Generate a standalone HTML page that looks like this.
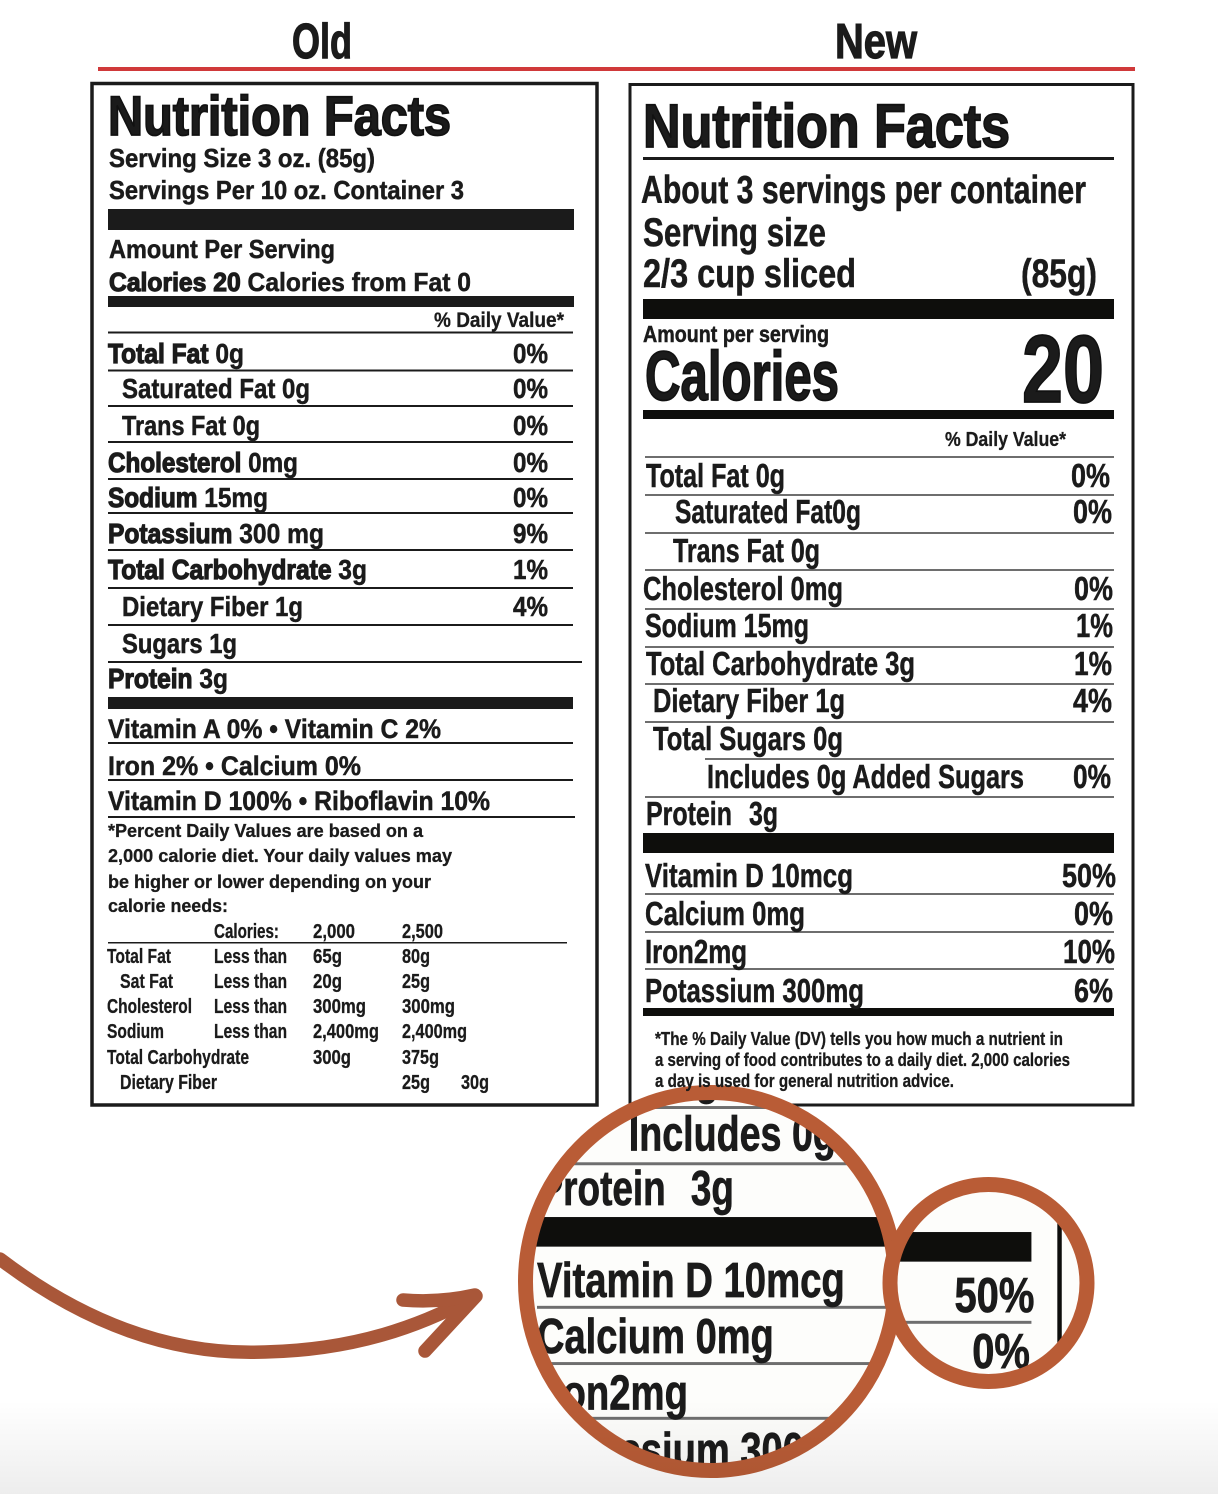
<!DOCTYPE html>
<html><head><meta charset="utf-8"><style>
html,body{margin:0;padding:0;background:#fff;width:1218px;height:1494px;overflow:hidden;}
svg{display:block}
text{font-family:"Liberation Sans",Arial,sans-serif;font-weight:bold;fill:#1b1b1b;stroke:#1b1b1b;stroke-width:0.5;}
.s{stroke-width:0.3;}
.k{stroke:#1b1b1b;stroke-width:1.2;}
.kk{stroke:#111;stroke-width:1.8;}
</style></head><body>
<svg width="1218" height="1494" viewBox="0 0 1218 1494" xmlns="http://www.w3.org/2000/svg">
<defs>
  <clipPath id="cb"><ellipse cx="710.5" cy="1281.5" rx="185" ry="189"/></clipPath>
  <clipPath id="cs"><circle cx="988.5" cy="1283" r="98"/></clipPath>
  <clipPath id="page"><rect x="0" y="0" width="1218" height="1494"/></clipPath>
  <linearGradient id="fade" x1="0" y1="0" x2="0" y2="1">
    <stop offset="0" stop-color="#000" stop-opacity="0"/>
    <stop offset="1" stop-color="#000" stop-opacity="0.07"/>
  </linearGradient>
</defs>
<g clip-path="url(#page)">
<rect x="0" y="0" width="1218" height="1494" fill="#fff"/>

<!-- headings -->
<text x="292" y="58" font-size="49" textLength="60" lengthAdjust="spacingAndGlyphs" class="k">Old</text>
<text x="835" y="58" font-size="49" textLength="82" lengthAdjust="spacingAndGlyphs" class="k">New</text>
<rect x="98" y="67" width="1037" height="4" fill="#d0393a"/>

<!-- OLD LABEL -->
<rect x="92" y="83.5" width="505" height="1021.5" fill="none" stroke="#1b1b1b" stroke-width="3.5"/>
<text x="108" y="135" font-size="56" textLength="343" lengthAdjust="spacingAndGlyphs" class="kk">Nutrition Facts</text>
<text x="109" y="167" font-size="26" textLength="266" lengthAdjust="spacingAndGlyphs">Serving Size 3 oz. (85g)</text>
<text x="109" y="199" font-size="26" textLength="355" lengthAdjust="spacingAndGlyphs">Servings Per 10 oz. Container 3</text>
<rect x="108" y="209" width="466" height="21" fill="#1b1b1b"/>
<text x="109" y="258" font-size="26" textLength="226" lengthAdjust="spacingAndGlyphs">Amount Per Serving</text>
<text x="109" y="291" font-size="26" textLength="362" lengthAdjust="spacingAndGlyphs"><tspan class="k">Calories 20</tspan>  Calories from Fat 0</text>
<rect x="108" y="296" width="466" height="11" fill="#1b1b1b"/>
<text x="434" y="327" font-size="21" textLength="130" lengthAdjust="spacingAndGlyphs" class="s">% Daily Value*</text>
<g fill="#1b1b1b">
<rect x="108" y="331.5" width="465" height="2"/>
<rect x="108" y="369.5" width="465" height="2"/>
<rect x="108" y="405" width="465" height="2"/>
<rect x="108" y="441" width="465" height="2"/>
<rect x="108" y="478" width="465" height="2"/>
<rect x="108" y="512" width="465" height="2"/>
<rect x="108" y="549" width="465" height="2"/>
<rect x="108" y="587" width="465" height="2"/>
<rect x="108" y="624" width="465" height="2"/>
<rect x="108" y="661" width="474" height="2"/>
<rect x="108" y="697" width="465" height="12"/>
</g>
<text x="108" y="363" font-size="28" textLength="136" lengthAdjust="spacingAndGlyphs"><tspan class="k">Total Fat</tspan> 0g</text>
<text x="122" y="398" font-size="28" textLength="188" lengthAdjust="spacingAndGlyphs">Saturated Fat 0g</text>
<text x="122" y="435" font-size="28" textLength="138" lengthAdjust="spacingAndGlyphs">Trans Fat 0g</text>
<text x="108" y="472" font-size="28" textLength="190" lengthAdjust="spacingAndGlyphs"><tspan class="k">Cholesterol</tspan> 0mg</text>
<text x="108" y="507" font-size="28" textLength="160" lengthAdjust="spacingAndGlyphs"><tspan class="k">Sodium</tspan> 15mg</text>
<text x="108" y="543" font-size="28" textLength="216" lengthAdjust="spacingAndGlyphs"><tspan class="k">Potassium</tspan> 300 mg</text>
<text x="108" y="579" font-size="28" textLength="259" lengthAdjust="spacingAndGlyphs"><tspan class="k">Total Carbohydrate</tspan> 3g</text>
<text x="122" y="616" font-size="28" textLength="181" lengthAdjust="spacingAndGlyphs">Dietary Fiber 1g</text>
<text x="122" y="653" font-size="28" textLength="115" lengthAdjust="spacingAndGlyphs">Sugars 1g</text>
<text x="108" y="688" font-size="28" textLength="120" lengthAdjust="spacingAndGlyphs"><tspan class="k">Protein</tspan> 3g</text>
<text x="513" y="363" font-size="28" textLength="35" lengthAdjust="spacingAndGlyphs">0%</text>
<text x="513" y="398" font-size="28" textLength="35" lengthAdjust="spacingAndGlyphs">0%</text>
<text x="513" y="435" font-size="28" textLength="35" lengthAdjust="spacingAndGlyphs">0%</text>
<text x="513" y="472" font-size="28" textLength="35" lengthAdjust="spacingAndGlyphs">0%</text>
<text x="513" y="507" font-size="28" textLength="35" lengthAdjust="spacingAndGlyphs">0%</text>
<text x="513" y="543" font-size="28" textLength="35" lengthAdjust="spacingAndGlyphs">9%</text>
<text x="513" y="579" font-size="28" textLength="35" lengthAdjust="spacingAndGlyphs">1%</text>
<text x="513" y="616" font-size="28" textLength="35" lengthAdjust="spacingAndGlyphs">4%</text>
<text x="108" y="738" font-size="27" textLength="333" lengthAdjust="spacingAndGlyphs">Vitamin A 0% • Vitamin C 2%</text>
<rect x="108" y="742" width="465" height="2" fill="#1b1b1b"/>
<text x="108" y="775" font-size="27" textLength="253" lengthAdjust="spacingAndGlyphs">Iron 2% • Calcium 0%</text>
<rect x="108" y="779" width="465" height="2" fill="#1b1b1b"/>
<text x="108" y="810" font-size="27" textLength="382" lengthAdjust="spacingAndGlyphs">Vitamin D 100% • Riboflavin 10%</text>
<rect x="108" y="816" width="467" height="2" fill="#1b1b1b"/>
<text class="s" x="108" y="837" font-size="18" textLength="315" lengthAdjust="spacingAndGlyphs">*Percent Daily Values are based on a</text>
<text class="s" x="108" y="862" font-size="18" textLength="344" lengthAdjust="spacingAndGlyphs">2,000 calorie diet. Your daily values may</text>
<text class="s" x="108" y="888" font-size="18" textLength="323" lengthAdjust="spacingAndGlyphs">be higher or lower depending on your</text>
<text class="s" x="108" y="912" font-size="18" textLength="120" lengthAdjust="spacingAndGlyphs">calorie needs:</text>
<g font-size="20">
<text class="s" x="214" y="938" textLength="65" lengthAdjust="spacingAndGlyphs">Calories:</text>
<text class="s" x="313" y="938" textLength="42" lengthAdjust="spacingAndGlyphs">2,000</text>
<text class="s" x="402" y="938" textLength="41" lengthAdjust="spacingAndGlyphs">2,500</text>
<text class="s" x="107" y="963" textLength="64" lengthAdjust="spacingAndGlyphs">Total Fat</text>
<text class="s" x="214" y="963" textLength="73" lengthAdjust="spacingAndGlyphs">Less than</text>
<text class="s" x="313" y="963" textLength="29" lengthAdjust="spacingAndGlyphs">65g</text>
<text class="s" x="402" y="963" textLength="28" lengthAdjust="spacingAndGlyphs">80g</text>
<text class="s" x="120" y="988" textLength="53" lengthAdjust="spacingAndGlyphs">Sat Fat</text>
<text class="s" x="214" y="988" textLength="73" lengthAdjust="spacingAndGlyphs">Less than</text>
<text class="s" x="313" y="988" textLength="29" lengthAdjust="spacingAndGlyphs">20g</text>
<text class="s" x="402" y="988" textLength="28" lengthAdjust="spacingAndGlyphs">25g</text>
<text class="s" x="107" y="1013" textLength="85" lengthAdjust="spacingAndGlyphs">Cholesterol</text>
<text class="s" x="214" y="1013" textLength="73" lengthAdjust="spacingAndGlyphs">Less than</text>
<text class="s" x="313" y="1013" textLength="53" lengthAdjust="spacingAndGlyphs">300mg</text>
<text class="s" x="402" y="1013" textLength="53" lengthAdjust="spacingAndGlyphs">300mg</text>
<text class="s" x="107" y="1038" textLength="57" lengthAdjust="spacingAndGlyphs">Sodium</text>
<text class="s" x="214" y="1038" textLength="73" lengthAdjust="spacingAndGlyphs">Less than</text>
<text class="s" x="313" y="1038" textLength="66" lengthAdjust="spacingAndGlyphs">2,400mg</text>
<text class="s" x="402" y="1038" textLength="65" lengthAdjust="spacingAndGlyphs">2,400mg</text>
<text class="s" x="107" y="1064" textLength="142" lengthAdjust="spacingAndGlyphs">Total Carbohydrate</text>
<text class="s" x="313" y="1064" textLength="38" lengthAdjust="spacingAndGlyphs">300g</text>
<text class="s" x="402" y="1064" textLength="37" lengthAdjust="spacingAndGlyphs">375g</text>
<text class="s" x="120" y="1089" textLength="97" lengthAdjust="spacingAndGlyphs">Dietary Fiber</text>
<text class="s" x="402" y="1089" textLength="28" lengthAdjust="spacingAndGlyphs">25g</text>
<text class="s" x="461" y="1089" textLength="28" lengthAdjust="spacingAndGlyphs">30g</text>
</g>
<rect x="108" y="942" width="459" height="1.5" fill="#1b1b1b"/>

<!-- NEW LABEL -->
<rect x="630" y="84.5" width="503" height="1020.5" fill="none" stroke="#1b1b1b" stroke-width="3"/>
<text x="643" y="147" font-size="61" textLength="367" lengthAdjust="spacingAndGlyphs" class="kk">Nutrition Facts</text>
<rect x="643" y="157" width="471" height="3" fill="#1b1b1b"/>
<text x="641" y="203" font-size="39" textLength="445" lengthAdjust="spacingAndGlyphs">About 3 servings per container</text>
<text x="643" y="246" font-size="40" textLength="183" lengthAdjust="spacingAndGlyphs">Serving size</text>
<text x="643" y="287" font-size="40" textLength="213" lengthAdjust="spacingAndGlyphs">2/3 cup sliced</text>
<text x="1021" y="287" font-size="40" textLength="76" lengthAdjust="spacingAndGlyphs">(85g)</text>
<rect x="643" y="299" width="471" height="20" fill="#0e0e0c"/>
<text x="643" y="342" font-size="23" textLength="186" lengthAdjust="spacingAndGlyphs">Amount per serving</text>
<text x="645" y="400" font-size="70" textLength="194" lengthAdjust="spacingAndGlyphs" class="kk">Calories</text>
<text x="1022" y="402" font-size="96" textLength="82" lengthAdjust="spacingAndGlyphs" class="kk">20</text>
<rect x="643" y="410" width="471" height="9" fill="#0e0e0c"/>
<text x="945" y="446" font-size="20" textLength="121" lengthAdjust="spacingAndGlyphs" class="s">% Daily Value*</text>

<g>
<g fill="#6e6e6e">
<rect x="645" y="456" width="469" height="2"/>
<rect x="645" y="494" width="469" height="2"/>
<rect x="645" y="532" width="469" height="2"/>
<rect x="645" y="569" width="469" height="2"/>
<rect x="645" y="608" width="469" height="2"/>
<rect x="645" y="646" width="469" height="2"/>
<rect x="645" y="683" width="469" height="2"/>
<rect x="645" y="721" width="469" height="2"/>
<rect x="705" y="758" width="409" height="2"/>
<rect x="645" y="796" width="469" height="2"/>
<rect x="645" y="893" width="469" height="2"/>
<rect x="645" y="931" width="469" height="2"/>
<rect x="645" y="968" width="469" height="2"/>
</g>
<rect x="643" y="833" width="471" height="20" fill="#0e0e0c"/>
<rect x="643" y="1008" width="471" height="8" fill="#0e0e0c"/>
<g font-size="33">
<text x="646" y="487" textLength="139" lengthAdjust="spacingAndGlyphs">Total Fat 0g</text>
<text x="1071" y="487" textLength="39" lengthAdjust="spacingAndGlyphs">0%</text>
<text x="675" y="523" textLength="186" lengthAdjust="spacingAndGlyphs">Saturated Fat0g</text>
<text x="1073" y="523" textLength="39" lengthAdjust="spacingAndGlyphs">0%</text>
<text x="673" y="562" textLength="147" lengthAdjust="spacingAndGlyphs">Trans Fat 0g</text>
<text x="643" y="600" textLength="200" lengthAdjust="spacingAndGlyphs">Cholesterol 0mg</text>
<text x="1074" y="600" textLength="39" lengthAdjust="spacingAndGlyphs">0%</text>
<text x="645" y="637" textLength="164" lengthAdjust="spacingAndGlyphs">Sodium 15mg</text>
<text x="1076" y="637" textLength="37" lengthAdjust="spacingAndGlyphs">1%</text>
<text x="646" y="675" textLength="269" lengthAdjust="spacingAndGlyphs">Total Carbohydrate 3g</text>
<text x="1074" y="675" textLength="38" lengthAdjust="spacingAndGlyphs">1%</text>
<text x="653" y="712" textLength="192" lengthAdjust="spacingAndGlyphs">Dietary Fiber 1g</text>
<text x="1073" y="712" textLength="39" lengthAdjust="spacingAndGlyphs">4%</text>
<text x="653" y="750" textLength="190" lengthAdjust="spacingAndGlyphs">Total Sugars 0g</text>
<text x="707" y="788" textLength="317" lengthAdjust="spacingAndGlyphs">Includes 0g Added Sugars</text>
<text x="1073" y="788" textLength="38" lengthAdjust="spacingAndGlyphs">0%</text>
<text x="646" y="825" textLength="86" lengthAdjust="spacingAndGlyphs">Protein</text>
<text x="749" y="825" textLength="29" lengthAdjust="spacingAndGlyphs">3g</text>
<text x="645" y="887" textLength="208" lengthAdjust="spacingAndGlyphs">Vitamin D 10mcg</text>
<text x="1062" y="887" textLength="54" lengthAdjust="spacingAndGlyphs">50%</text>
<text x="645" y="925" textLength="160" lengthAdjust="spacingAndGlyphs">Calcium 0mg</text>
<text x="1074" y="925" textLength="39" lengthAdjust="spacingAndGlyphs">0%</text>
<text x="645" y="963" textLength="102" lengthAdjust="spacingAndGlyphs">Iron2mg</text>
<text x="1063" y="963" textLength="52" lengthAdjust="spacingAndGlyphs">10%</text>
<text x="645" y="1002" textLength="219" lengthAdjust="spacingAndGlyphs">Potassium 300mg</text>
<text x="1074" y="1002" textLength="39" lengthAdjust="spacingAndGlyphs">6%</text>
</g>
</g>

<!-- arrow -->
<g fill="none" stroke="#a95739" stroke-width="13.5" stroke-linecap="round" stroke-linejoin="round">
<path d="M 0 1259 C 100 1335 190 1355 265 1352 C 355 1350 420 1326 472 1298"/>
<path d="M 403 1300 Q 440 1303 475 1295"/>
<path d="M 425 1351 L 476 1296"/>
</g>

<!-- big magnifier -->
<g clip-path="url(#cb)">
<rect x="500" y="1080" width="420" height="414" fill="#fdfdfb"/>
<g transform="translate(-417.6 -15.8) scale(1.48)">
<g fill="#6e6e6e">
<rect x="645" y="721" width="255" height="2"/>
<rect x="705" y="758" width="195" height="2"/>
<rect x="645" y="796" width="255" height="2"/>
<rect x="645" y="893" width="255" height="2"/>
<rect x="645" y="931" width="255" height="2"/>
<rect x="645" y="968" width="255" height="2"/>
</g>
<rect x="643" y="833" width="257" height="20" fill="#0e0e0c"/>
<g font-size="33">
<text x="653" y="750" textLength="190" lengthAdjust="spacingAndGlyphs">Total Sugars 0g</text>
<text x="707" y="788" textLength="180" lengthAdjust="spacingAndGlyphs">Includes 0g Ad</text>
<text x="646" y="825" textLength="86" lengthAdjust="spacingAndGlyphs">Protein</text>
<text x="749" y="825" textLength="29" lengthAdjust="spacingAndGlyphs">3g</text>
<text x="645" y="887" textLength="208" lengthAdjust="spacingAndGlyphs">Vitamin D 10mcg</text>
<text x="645" y="925" textLength="160" lengthAdjust="spacingAndGlyphs">Calcium 0mg</text>
<text x="645" y="963" textLength="102" lengthAdjust="spacingAndGlyphs">Iron2mg</text>
<text x="645" y="1002" textLength="219" lengthAdjust="spacingAndGlyphs">Potassium 300mg</text>
</g>
</g>
</g>
<ellipse cx="710.5" cy="1281.5" rx="185" ry="189" fill="none" stroke="#b95c36" stroke-width="15"/>

<!-- small magnifier -->
<g clip-path="url(#cs)">
<rect x="880" y="1170" width="220" height="230" fill="#fdfdfb"/>
<g transform="translate(-617.3 -0.8) scale(1.48)">
<rect x="1131.5" y="800" width="3" height="140" fill="#0e0e0c"/>
<g fill="#6e6e6e">
<rect x="1000" y="893" width="114" height="2"/>
<rect x="1000" y="931" width="114" height="2"/>
</g>
<rect x="1000" y="833" width="114" height="20" fill="#0e0e0c"/>
<g font-size="33">
<text x="1062" y="887" textLength="54" lengthAdjust="spacingAndGlyphs">50%</text>
<text x="1074" y="925" textLength="39" lengthAdjust="spacingAndGlyphs">0%</text>
</g>
</g>
</g>
<circle cx="988.5" cy="1283" r="98.5" fill="none" stroke="#b95c36" stroke-width="15"/>

<!-- footnote of new label drawn over ring -->
<text class="s" x="655" y="1045" font-size="18" textLength="408" lengthAdjust="spacingAndGlyphs">*The % Daily Value (DV) tells you how much a nutrient in</text>
<text class="s" x="655" y="1066" font-size="18" textLength="415" lengthAdjust="spacingAndGlyphs">a serving of food contributes to a daily diet. 2,000 calories</text>
<text class="s" x="655" y="1087" font-size="18" textLength="299" lengthAdjust="spacingAndGlyphs">a day is used for general nutrition advice.</text>

<rect x="0" y="1400" width="1218" height="94" fill="url(#fade)"/>
</g>
</svg>
</body></html>
